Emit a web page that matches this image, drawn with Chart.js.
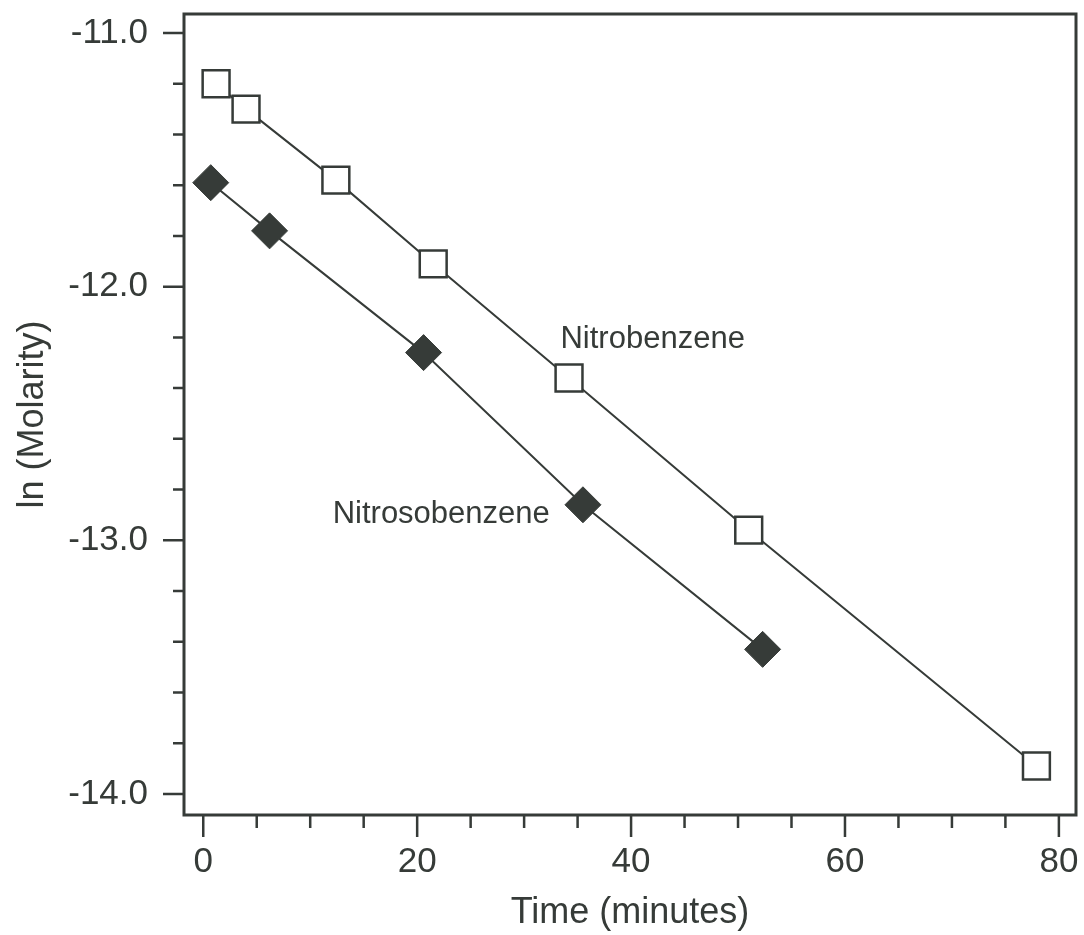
<!DOCTYPE html>
<html>
<head>
<meta charset="utf-8">
<script src="https://cdn.jsdelivr.net/npm/chart.js@4.4.1/dist/chart.umd.min.js"></script>
<style>
  html, body { margin: 0; padding: 0; background: #ffffff; }
  #wrap { width: 1084px; height: 935px; }
</style>
</head>
<body>
<div id="wrap"><canvas id="plot-canvas" width="1084" height="935"></canvas></div>
<script>
// data
var seriesNames = ['Nitrobenzene', 'Nitrosobenzene'];

var nitrobenzeneTime = [1.2, 4.0, 12.4, 21.5, 34.2, 51.0, 77.9];
var nitrobenzeneLnM = [-11.20, -11.30, -11.58, -11.91, -12.36, -12.96, -13.89];

var nitrosobenzeneTime = [0.7, 6.2, 20.6, 35.5, 52.3];
var nitrosobenzeneLnM = [-11.59, -11.78, -12.26, -12.86, -13.43];

var xTickLabels = [0, 20, 40, 60, 80];
var yTickLabels = [-11.0, -12.0, -13.0, -14.0];

// where the two text labels sit (data coords, left/baseline)
var labelTime = [33.4, 12.1];
var labelLnM = [-12.24, -12.93];

var ink = '#363b38';
var fontFamily = '"Liberation Sans", Arial, Helvetica, sans-serif';

function toPoints(xs, ys) {
    return xs.map(function (x, i) { return { x: x, y: ys[i] }; });
}

function stepTicks(min, max, step) {
    var out = [];
    var start = Math.ceil(min / step - 1e-9);
    for (var k = start; k * step <= max + 1e-9; k++) {
        out.push({ value: Math.round(k * step * 100) / 100 });
    }
    return out;
}

// ticks outside the box (long on labelled values), the box, and the series names
var axisDecor = {
    id: 'axisDecor',
    afterDraw: function (chart) {
        var ctx = chart.ctx;
        var area = chart.chartArea;
        var xs = chart.scales.x, ys = chart.scales.y;
        ctx.save();
        ctx.strokeStyle = ink;
        ctx.lineWidth = 2.5;
        ctx.beginPath();
        xs.ticks.forEach(function (t) {
            var px = xs.getPixelForValue(t.value);
            var len = xTickLabels.indexOf(t.value) >= 0 ? 22 : 13;
            ctx.moveTo(px, area.bottom);
            ctx.lineTo(px, area.bottom + len);
        });
        ys.ticks.forEach(function (t) {
            var py = ys.getPixelForValue(t.value);
            var len = yTickLabels.indexOf(t.value) >= 0 ? 21 : 11;
            ctx.moveTo(area.left, py);
            ctx.lineTo(area.left - len, py);
        });
        ctx.stroke();

        ctx.lineWidth = 3;
        ctx.strokeRect(area.left, area.top, area.right - area.left, area.bottom - area.top);

        ctx.fillStyle = ink;
        ctx.font = '31px ' + fontFamily;
        ctx.textBaseline = 'alphabetic';
        ctx.textAlign = 'left';
        seriesNames.forEach(function (name, i) {
            ctx.fillText(name, xs.getPixelForValue(labelTime[i]), ys.getPixelForValue(labelLnM[i]));
        });
        ctx.restore();
    }
};

var scatterConfig = {
    type: 'scatter',
    data: {
        datasets: [{
            label: seriesNames[0],
            data: toPoints(nitrobenzeneTime, nitrobenzeneLnM),
            showLine: true,
            borderColor: ink,
            borderWidth: 2,
            pointStyle: 'rect',
            pointRadius: 19,
            pointBorderWidth: 2.5,
            pointBackgroundColor: '#ffffff',
            pointBorderColor: ink
        }, {
            label: seriesNames[1],
            data: toPoints(nitrosobenzeneTime, nitrosobenzeneLnM),
            showLine: true,
            borderColor: ink,
            borderWidth: 2,
            pointStyle: 'rectRot',
            pointRadius: 18,
            pointBorderWidth: 1,
            pointBackgroundColor: ink,
            pointBorderColor: ink
        }]
    },
    options: {
        responsive: false,
        animation: false,
        layout: { autoPadding: false, padding: { top: 14, right: 8, left: 0, bottom: 0 } },
        plugins: {
            legend: { display: false },
            tooltip: { enabled: false }
        },
        scales: {
            x: {
                type: 'linear',
                min: -1.8,
                max: 81.6,
                grid: { display: false, drawTicks: false },
                border: { display: false },
                afterBuildTicks: function (scale) { scale.ticks = stepTicks(0, 80, 5); },
                afterFit: function (scale) {
                    scale.height = 120;
                    scale.paddingLeft = 0;
                    scale.paddingRight = 0;
                },
                ticks: {
                    autoSkip: false,
                    maxRotation: 0,
                    padding: 26,
                    color: ink,
                    font: { family: fontFamily, size: 35 },
                    callback: function (v) { return xTickLabels.indexOf(v) >= 0 ? String(v) : ''; }
                },
                title: {
                    display: true,
                    text: 'Time (minutes)',
                    color: ink,
                    font: { family: fontFamily, size: 36 },
                    padding: { top: 0, bottom: 0 }
                }
            },
            y: {
                type: 'linear',
                min: -14.083,
                max: -10.925,
                grid: { display: false, drawTicks: false },
                border: { display: false },
                afterBuildTicks: function (scale) { scale.ticks = stepTicks(-14, -11, 0.2); },
                afterFit: function (scale) {
                    scale.width = 184;
                    scale.paddingTop = 0;
                    scale.paddingBottom = 0;
                },
                ticks: {
                    autoSkip: false,
                    padding: 36,
                    color: ink,
                    font: { family: fontFamily, size: 35 },
                    callback: function (v) { return yTickLabels.indexOf(v) >= 0 ? v.toFixed(1) : ''; }
                },
                title: {
                    display: true,
                    text: 'ln (Molarity)',
                    color: ink,
                    font: { family: fontFamily, size: 36 },
                    padding: { top: 11, bottom: 0 }
                }
            }
        }
    },
    plugins: [axisDecor]
};

var ctx = document.getElementById('plot-canvas').getContext('2d');
window.myScatter = new Chart(ctx, scatterConfig);
</script>
</body>
</html>
